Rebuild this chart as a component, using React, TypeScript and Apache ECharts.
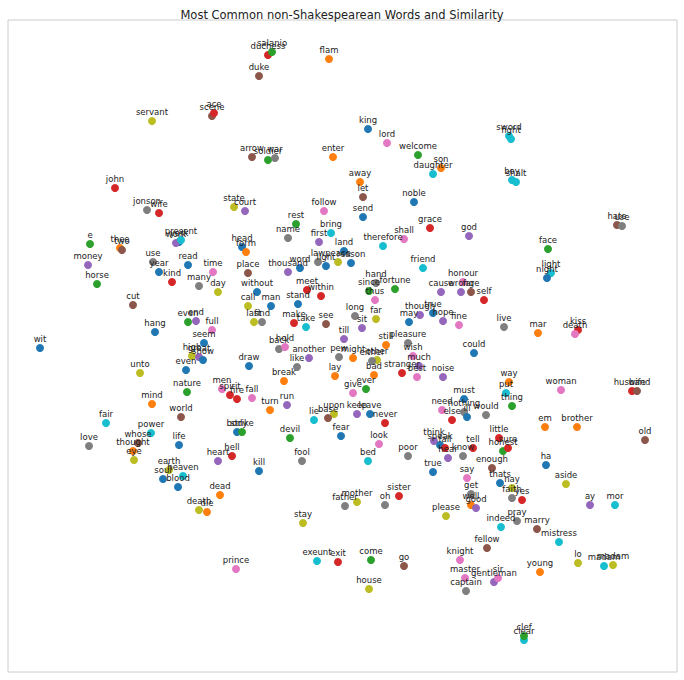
import React, { useEffect, useRef } from "react";
import * as echarts from "echarts";

const palette: Record<string, string> = {
  b: "#1f77b4", o: "#ff7f0e", g: "#2ca02c", r: "#d62728", p: "#9467bd",
  br: "#8c564b", pk: "#e377c2", gy: "#7f7f7f", ol: "#bcbd22", c: "#17becf",
};

// [word, x, y, colour]
const points: [string, number, number, string][] = [
  ["duchess", 268, 55, "r"], ["salanio", 272, 52, "g"], ["flam", 329, 59, "o"], ["duke", 259, 76, "br"],
  ["servant", 152, 121, "ol"], ["scene", 212, 116, "br"], ["ace", 214, 113, "r"], ["king", 368, 129, "b"],
  ["lord", 387, 143, "pk"], ["sword", 509, 136, "c"], ["fight", 511, 139, "c"], ["soldier", 268, 160, "g"],
  ["arrow", 252, 157, "br"], ["war", 275, 158, "gy"], ["enter", 333, 157, "o"], ["welcome", 418, 155, "g"],
  ["son", 441, 168, "o"], ["daughter", 433, 174, "c"], ["boy", 512, 180, "c"], ["shalt", 516, 182, "c"],
  ["away", 360, 182, "o"], ["john", 115, 188, "r"], ["noble", 414, 202, "b"], ["let", 363, 197, "br"],
  ["jonson", 147, 210, "gy"], ["wife", 159, 213, "r"], ["state", 234, 207, "ol"], ["court", 245, 211, "p"],
  ["follow", 324, 211, "pk"], ["send", 363, 217, "b"], ["york", 179, 242, "b"], ["work", 176, 243, "p"],
  ["grace", 430, 228, "r"], ["god", 469, 236, "p"], ["hate", 617, 225, "br"], ["use", 622, 226, "gy"],
  ["rest", 296, 224, "g"], ["present", 181, 240, "c"], ["bring", 331, 233, "c"], ["name", 288, 238, "gy"],
  ["first", 319, 242, "p"], ["head", 242, 247, "b"], ["form", 246, 252, "o"], ["face", 548, 249, "g"],
  ["e", 90, 244, "g"], ["thee", 120, 248, "o"], ["two", 122, 250, "br"], ["therefore", 383, 246, "c"],
  ["shall", 404, 239, "pk"], ["land", 344, 251, "b"], ["law", 318, 262, "gy"], ["peace", 338, 262, "ol"],
  ["reason", 351, 263, "b"], ["light", 326, 266, "b"], ["word", 300, 268, "b"], ["thousand", 288, 272, "p"],
  ["money", 88, 265, "p"], ["use", 153, 262, "gy"], ["read", 188, 265, "b"], ["time", 213, 272, "pk"],
  ["year", 159, 272, "b"], ["kind", 172, 282, "r"], ["many", 199, 286, "gy"], ["light", 551, 273, "c"],
  ["night", 547, 278, "b"], ["friend", 423, 268, "c"], ["place", 248, 273, "br"], ["hand", 376, 283, "gy"],
  ["fortune", 395, 289, "g"], ["horse", 97, 284, "g"], ["honour", 463, 282, "pk"], ["day", 218, 292, "ol"],
  ["without", 257, 292, "b"], ["meet", 307, 290, "r"], ["since", 369, 291, "g"], ["cause", 441, 292, "p"],
  ["wrong", 461, 292, "p"], ["fare", 471, 292, "br"], ["call", 248, 306, "ol"], ["within", 321, 296, "r"],
  ["stand", 298, 304, "b"], ["thus", 375, 300, "pk"], ["self", 484, 300, "r"], ["cut", 133, 305, "br"],
  ["man", 271, 306, "b"], ["long", 355, 316, "gy"], ["though", 420, 315, "p"], ["true", 433, 313, "b"],
  ["may", 409, 322, "b"], ["sit", 362, 328, "p"], ["far", 376, 319, "ol"], ["hope", 443, 321, "p"],
  ["fine", 459, 325, "pk"], ["live", 504, 327, "gy"], ["mar", 538, 333, "o"], ["kiss", 578, 330, "r"],
  ["death", 575, 334, "pk"], ["hang", 155, 332, "b"], ["even", 188, 322, "g"], ["end", 196, 321, "p"],
  ["seem", 204, 343, "b"], ["last", 254, 322, "ol"], ["find", 262, 322, "gy"], ["make", 294, 323, "r"],
  ["take", 306, 327, "c"], ["see", 326, 324, "br"], ["full", 212, 330, "pk"], ["wit", 40, 348, "b"],
  ["high", 192, 356, "ol"], ["great", 199, 357, "p"], ["show", 203, 360, "b"], ["back", 279, 349, "gy"],
  ["hold", 285, 347, "pk"], ["till", 344, 339, "p"], ["still", 386, 345, "o"], ["pleasure", 408, 343, "gy"],
  ["wish", 413, 356, "pk"], ["pew", 339, 357, "gy"], ["another", 309, 358, "p"], ["might", 353, 358, "o"],
  ["other", 377, 360, "ol"], ["either", 372, 361, "gy"], ["draw", 249, 366, "b"], ["like", 297, 367, "gy"],
  ["much", 419, 366, "p"], ["bad", 374, 375, "o"], ["could", 474, 353, "b"], ["unto", 140, 373, "ol"],
  ["even", 186, 370, "b"], ["break", 284, 381, "o"], ["nature", 187, 392, "g"], ["men", 222, 389, "pk"],
  ["spirit", 230, 395, "r"], ["fire", 237, 399, "r"], ["fall", 252, 398, "pk"], ["lay", 335, 376, "o"],
  ["stranger", 402, 373, "r"], ["best", 417, 377, "pk"], ["noise", 443, 377, "p"], ["way", 509, 382, "o"],
  ["put", 506, 393, "c"], ["woman", 561, 390, "pk"], ["husband", 632, 391, "r"], ["wife", 637, 391, "br"],
  ["give", 353, 393, "pk"], ["ever", 366, 389, "g"], ["must", 464, 399, "b"], ["nothing", 464, 412, "gy"],
  ["thing", 512, 406, "g"], ["mind", 152, 404, "o"], ["run", 287, 405, "p"], ["turn", 270, 410, "o"],
  ["upon", 334, 414, "ol"], ["base", 328, 418, "br"], ["keep", 357, 414, "p"], ["leave", 370, 414, "b"],
  ["lie", 314, 420, "c"], ["never", 385, 423, "r"], ["need", 442, 410, "pk"], ["else", 452, 420, "r"],
  ["ill", 467, 417, "b"], ["would", 486, 415, "gy"], ["world", 181, 417, "br"], ["em", 545, 427, "o"],
  ["brother", 577, 427, "o"], ["fair", 106, 423, "c"], ["power", 151, 433, "c"], ["whose", 138, 443, "br"],
  ["body", 237, 432, "b"], ["strike", 242, 432, "g"], ["devil", 290, 438, "g"], ["fear", 341, 436, "b"],
  ["look", 379, 444, "pk"], ["think", 434, 441, "p"], ["speak", 440, 445, "b"], ["fall", 445, 448, "r"],
  ["little", 499, 438, "r"], ["old", 645, 440, "br"], ["love", 89, 446, "gy"], ["life", 179, 445, "b"],
  ["hell", 232, 456, "r"], ["heart", 218, 461, "p"], ["thought", 133, 451, "o"], ["poor", 408, 456, "gy"],
  ["hear", 448, 458, "p"], ["honest", 503, 451, "g"], ["sure", 508, 448, "r"], ["eye", 134, 460, "ol"],
  ["ha", 546, 465, "b"], ["kill", 259, 471, "b"], ["fool", 302, 461, "gy"], ["bed", 368, 461, "c"],
  ["enough", 492, 468, "br"], ["know", 463, 456, "gy"], ["tell", 473, 448, "r"], ["earth", 169, 470, "ol"],
  ["heaven", 183, 476, "c"], ["soul", 163, 479, "b"], ["blood", 178, 487, "b"], ["true", 433, 472, "b"],
  ["say", 467, 478, "pk"], ["thats", 500, 483, "b"], ["nay", 512, 488, "ol"], ["aside", 566, 484, "ol"],
  ["sister", 399, 496, "r"], ["dead", 220, 495, "o"], ["ay", 590, 505, "p"], ["mor", 615, 505, "c"],
  ["get", 471, 494, "gy"], ["faith", 512, 498, "gy"], ["yes", 522, 500, "r"], ["father", 345, 506, "gy"],
  ["mother", 357, 502, "ol"], ["oh", 385, 505, "gy"], ["well", 471, 505, "o"], ["good", 476, 508, "p"],
  ["death", 199, 510, "ol"], ["die", 207, 512, "o"], ["please", 446, 516, "ol"], ["indeed", 501, 527, "c"],
  ["pray", 517, 521, "gy"], ["marry", 537, 529, "br"], ["stay", 303, 523, "ol"], ["mistress", 559, 542, "c"],
  ["fellow", 487, 548, "br"], ["prince", 236, 569, "pk"], ["exeunt", 317, 561, "c"], ["exit", 338, 562, "r"],
  ["come", 371, 560, "g"], ["go", 404, 566, "br"], ["knight", 460, 560, "pk"], ["lo", 578, 563, "ol"],
  ["madam", 604, 566, "c"], ["madam", 613, 565, "ol"], ["young", 540, 572, "o"], ["master", 465, 578, "pk"],
  ["gentleman", 494, 582, "p"], ["sir", 498, 578, "pk"], ["captain", 466, 591, "gy"], ["house", 369, 589, "ol"],
  ["clear", 524, 640, "c"], ["clef", 524, 636, "g"],
];

export default function App() {
  const ref = useRef<HTMLDivElement>(null);
  useEffect(() => {
    document.body.style.margin = "0";
    const chart = echarts.init(ref.current!, null, { renderer: "svg" });
    chart.setOption({
      animation: false,
      backgroundColor: "#fff",
      title: {
        text: "Most Common non-Shakespearean Words and Similarity",
        left: "center", top: 4,
        textStyle: { fontSize: 11.5, fontWeight: "normal", color: "#222", fontFamily: "DejaVu Sans" },
      },
      grid: { left: 8, right: 7, top: 20, bottom: 8, show: true, borderColor: "#ccc", borderWidth: 1 },
      xAxis: { type: "value", min: 8, max: 677, show: false },
      yAxis: { type: "value", min: 20, max: 672, inverse: true, show: false },
      series: [{
        type: "scatter",
        symbolSize: 8,
        itemStyle: { opacity: 1 },
        data: points.map(([w, x, y, c]) => ({
          name: w, value: [x, y], itemStyle: { color: palette[c], opacity: 1 },
        })),
        label: {
          show: true, position: "top", distance: 1,
          formatter: (p: any) => p.name,
          fontSize: 8.5, color: "#222", fontFamily: "DejaVu Sans",
        },
      }],
    });
    return () => chart.dispose();
  }, []);
  return <div ref={ref} style={{ width: 684, height: 680 }} />;
}
